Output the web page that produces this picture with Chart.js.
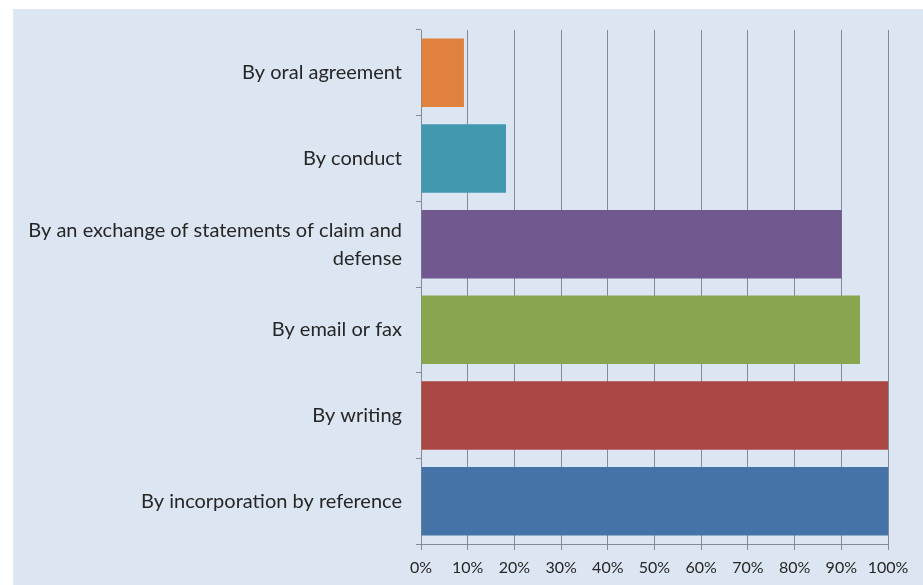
<!DOCTYPE html>
<html>
<head>
<meta charset="utf-8">
<script src="https://cdn.jsdelivr.net/npm/chart.js@4"></script>
<style>
  html, body { margin: 0; padding: 0; background: #ffffff; }
  #wrap { position: absolute; left: 13px; top: 9px; width: 910px; height: 576px; background: #dce6f2; }
  canvas { display: block; }
</style>
</head>
<body>
<div id="wrap"><canvas id="c" width="910" height="576"></canvas></div>
<script>
const categories = [
  "By oral agreement",
  "By conduct",
  ["By an exchange of statements of claim and", "defense"],
  "By email or fax",
  "By writing",
  "By incorporation by reference"
];
const values = [9.2, 18.2, 90.1, 94.0, 100, 100];
const barColors = ["#e0823d", "#4198af", "#71588f", "#89a54e", "#aa4643", "#4572a7"];
const tickValues = [0,10,20,30,40,50,60,70,80,90,100];

new Chart(document.getElementById('c'), {
  type: 'bar',
  data: {
    labels: categories,
    datasets: [{
      data: values,
      backgroundColor: barColors,
      borderWidth: 0,
      categoryPercentage: 0.8,
      barPercentage: 1.0
    }]
  },
  options: {
    indexAxis: 'y',
    responsive: false,
    animation: false,
    layout: { padding: { top: 21, right: 35, left: 0, bottom: 0 } },
    plugins: { legend: { display: false }, tooltip: { enabled: false } },
    scales: {
      x: {
        min: 0, max: 100,
        afterBuildTicks: (s) => { s.ticks = tickValues.map(v => ({ value: v })); },
        afterFit: (s) => { s.height = 41; },
        grid: { color: '#858b94', lineWidth: 1, drawTicks: true, tickLength: 6, tickColor: '#858b94' },
        border: { display: true, color: '#858b94', width: 1 },
        ticks: {
          callback: (v) => v + '%',
          color: '#262626',
          font: { family: 'Lato', size: 16 },
          padding: 8,
          maxRotation: 0
        }
      },
      y: {
        afterFit: (s) => { s.width = 408; s.paddingTop = 0; s.paddingBottom = 0; },
        grid: { display: true, drawOnChartArea: false, drawTicks: true, tickLength: 5, offset: true, color: '#858b94', tickColor: '#858b94' },
        border: { display: true, color: '#858b94', width: 1 },
        ticks: {
          color: '#262626',
          font: { family: 'Lato', size: 20, lineHeight: 1.4 },
          padding: 14
        }
      }
    }
  }
});
</script>
</body>
</html>
